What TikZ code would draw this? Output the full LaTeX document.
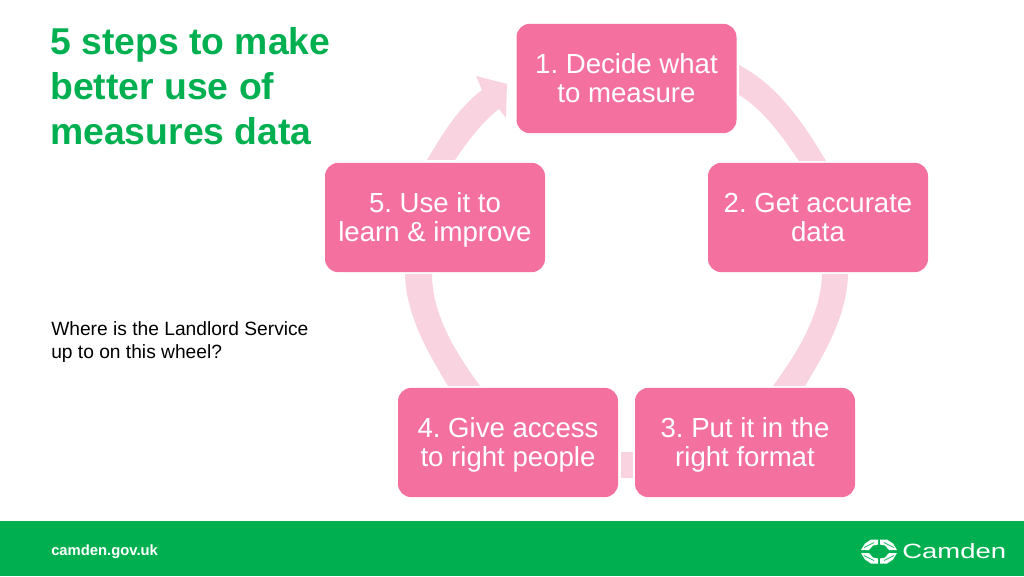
\documentclass[tikz,border=0pt]{standalone}
\usepackage{fontspec}
\setmainfont{Liberation Sans}
\frenchspacing
\definecolor{camdengreen}{HTML}{00B050}
\definecolor{boxpink}{HTML}{F4709F}
\definecolor{wheelpink}{HTML}{F9D3E0}
\tikzset{
    stepbox/.style={fill=boxpink, text=white, rounded corners=10pt, minimum width=165pt, minimum height=82pt, inner sep=0pt, text height=40pt, text depth=4.5pt, align=center, font=\fontsize{20.7}{21.75}\selectfont},
    wheelpart/.style={fill=wheelpink, draw=none},
}

\begin{document}
\begin{tikzpicture}[x=0.75pt, y=-0.75pt]
    \useasboundingbox (0, 0) rectangle (1024, 576);

    % wheel
    \fill[wheelpart] (739, 65) .. controls (778, 85.5) and (803.5, 123) .. (826, 161) -- (799, 161) .. controls (782, 136.4) and (764.5, 110.6) .. (739, 95) -- cycle;
    \fill[wheelpart] (848, 274) .. controls (847, 315) and (826, 351) .. (805, 386) -- (773, 386) .. controls (797, 353) and (821, 315) .. (822, 274) -- cycle;
    \fill[wheelpart] (621, 452) rectangle (633, 478);
    \fill[wheelpart] (405, 274) .. controls (406, 315) and (427, 351) .. (448, 386) -- (480, 386) .. controls (456, 353) and (432, 315) .. (432, 274) -- cycle;
    \fill[wheelpart] (427, 160) .. controls (442.5, 134) and (458, 108) .. (482, 90) -- (476, 76) -- (507, 84) -- (506, 118) -- (499, 109) .. controls (481, 123) and (468, 141) .. (455, 160) -- cycle;

    \node[stepbox] (decide) at (626.5, 78.5) {1. Decide what\\to measure};
    \node[stepbox] (accurate) at (818, 217.5) {2. Get accurate\\data};
    \node[stepbox] (format) at (745, 442.5) {3. Put it in the\\right format};
    \node[stepbox] (access) at (508, 442.5) {4. Give access\\to right people};
    \node[stepbox] (learn) at (435, 217.5) {5. Use it to\\learn \& improve};

    \node[anchor=north west, inner sep=0pt, align=left, text=camdengreen, font=\fontsize{28}{33.75}\bfseries\selectfont] (title) at (50, 27) {5 steps to make\\better use of\\measures data};
    \node[anchor=north west, inner sep=0pt, align=left, font=\fontsize{14.4}{17.25}\selectfont] (question) at (51, 321) {Where is the Landlord Service\\up to on this wheel?};

    % footer
    \fill[camdengreen] (0, 521) rectangle (1024, 576);
    \node[anchor=west, inner sep=0pt, text=white, font=\fontsize{11.1}{12}\bfseries\selectfont] (site) at (51, 551.5) {camden.gov.uk};
    \node[anchor=west, inner sep=0pt, text=white, font=\fontsize{15.5}{16}\selectfont, xscale=1.33] (camden) at (902, 551.5) {Camden};

    % logo
    \begin{scope}[shift={(879, 551.5)}]
        \fill[white] (-18, -1.5) -- (-14, -8) -- (-8, -12) -- (-1, -12) -- (-1, -7) -- (-6, -6) -- (-10, -1.5) -- cycle;
        \fill[white] (18, -1.5) -- (14, -8) -- (8, -12) -- (1, -12) -- (1, -7) -- (6, -6) -- (10, -1.5) -- cycle;
        \fill[white] (-18, 1.5) -- (-14, 8) -- (-8, 12) -- (-1, 12) -- (-1, 7) -- (-6, 6) -- (-10, 1.5) -- cycle;
        \fill[white] (18, 1.5) -- (14, 8) -- (8, 12) -- (1, 12) -- (1, 7) -- (6, 6) -- (10, 1.5) -- cycle;
        \draw[camdengreen, line width=0.5pt] (-15, -4) -- (-5, -9) (15, -4) -- (5, -9) (-15, 4) -- (-5, 9) (15, 4) -- (5, 9);
    \end{scope}
\end{tikzpicture}
\end{document}
